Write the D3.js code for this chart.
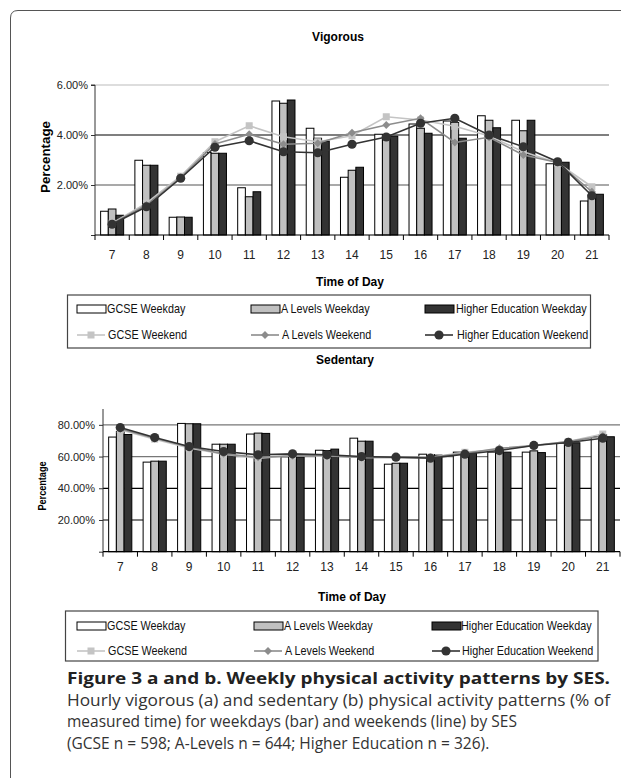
<!DOCTYPE html>
<html><head><meta charset="utf-8">
<script src="https://cdn.jsdelivr.net/npm/d3@7"></script>
<style>
html,body{margin:0;padding:0;background:#fff;}
svg{display:block;}
</style></head>
<body>
<svg id="c" width="621" height="778"></svg>
<script>
const hours = ["7","8","9","10","11","12","13","14","15","16","17","18","19","20","21"];
const seriesNames = ["GCSE Weekday","A Levels Weekday","Higher Education Weekday","GCSE Weekend","A Levels Weekend","Higher Education Weekend"];

const vigGcseWeekday = [0.95, 2.99, 0.71, 3.30, 1.89, 5.36, 4.27, 2.31, 4.03, 4.44, 4.56, 4.77, 4.59, 2.85, 1.36];
const vigALevWeekday = [1.04, 2.79, 0.72, 3.27, 1.53, 5.27, 3.87, 2.59, 3.97, 4.27, 4.50, 4.59, 4.17, 2.93, 1.60];
const vigHighWeekday = [0.79, 2.79, 0.71, 3.27, 1.73, 5.40, 3.76, 2.71, 3.95, 4.07, 3.87, 4.29, 4.59, 2.91, 1.63];
const vigGcseWeekend = [0.47, 1.27, 2.35, 3.73, 4.37, 3.93, 3.73, 3.97, 4.73, 4.60, 4.35, 3.96, 3.33, 2.88, 1.93];
const vigALevWeekend = [0.45, 1.20, 2.30, 3.64, 4.03, 3.63, 3.67, 4.09, 4.40, 4.67, 3.70, 3.91, 3.20, 2.90, 1.73];
const vigHighWeekend = [0.43, 1.13, 2.27, 3.51, 3.77, 3.33, 3.29, 3.63, 3.92, 4.47, 4.67, 4.00, 3.53, 2.93, 1.57];

const sedGcseWeekday = [72.3, 56.5, 80.9, 67.8, 74.2, 59.8, 64.0, 71.6, 55.2, 61.5, 62.8, 62.8, 62.8, 68.5, 72.6];
const sedALevWeekday = [75.8, 57.1, 80.7, 67.8, 74.8, 60.3, 63.8, 69.7, 55.8, 61.3, 62.5, 64.2, 63.6, 69.1, 73.7];
const sedHighWeekday = [73.9, 57.1, 80.7, 67.8, 74.6, 59.6, 64.7, 69.7, 55.8, 60.9, 62.1, 62.8, 62.5, 68.7, 72.5];
const sedGcseWeekend = [77.0, 71.0, 65.5, 61.5, 59.0, 60.5, 60.5, 59.5, 59.5, 59.5, 62.7, 64.5, 67.0, 69.5, 74.2];
const sedALevWeekend = [77.5, 71.5, 66.0, 61.7, 59.5, 60.5, 60.5, 59.5, 59.5, 59.5, 62.0, 65.2, 67.0, 69.5, 73.0];
const sedHighWeekend = [78.3, 72.0, 66.3, 63.2, 61.1, 61.7, 61.1, 60.0, 59.6, 59.0, 61.5, 63.8, 67.0, 68.9, 71.6];

const vigTicks = [2, 4, 6];
const vigTickLabels = ["2.00%", "4.00%", "6.00%"];
const sedTicks = [20, 40, 60, 80];
const sedTickLabels = ["20.00%", "40.00%", "60.00%", "80.00%"];

const captionTitle = "Figure 3 a and b. Weekly physical activity patterns by SES.";
const captionLines = [
  "Hourly vigorous (a) and sedentary (b) physical activity patterns (% of",
  "measured time) for weekdays (bar) and weekends (line) by SES",
  "(GCSE n = 598; A-Levels n = 644; Higher Education n = 326)."
];

const svg = d3.select("#c");
const FONT = "'Liberation Sans', Arial, sans-serif";
const barFill = ["#ffffff", "#c0c0c0", "#333333"];
const lineCol = ["#c4c4c4", "#8c8c8c", "#333333"];

// frame
svg.append("path").attr("d", "M10.5,778 L10.5,18 Q10.5,10.5 18,10.5 L621,10.5")
  .attr("fill", "none").attr("stroke", "#555").attr("stroke-width", 1);

function marker(g, kind, cx, cy) {
  if (kind === 0) {
    g.append("rect").attr("x", cx - 3.5).attr("y", cy - 3.5).attr("width", 7).attr("height", 7)
      .attr("fill", lineCol[0]);
  } else if (kind === 1) {
    g.append("path").attr("d", d3.symbol(d3.symbolDiamond2, 40)()).attr("transform", `translate(${cx},${cy})`)
      .attr("fill", lineCol[1]);
  } else {
    g.append("circle").attr("cx", cx).attr("cy", cy).attr("r", 4.6).attr("fill", lineCol[2]);
  }
}

function panel(cfg) {
  const g = svg.append("g");
  const x = d3.scaleBand().domain(hours).range([cfg.x0, cfg.x1]);
  const y = d3.scaleLinear().domain([0, cfg.ymax]).range([cfg.yb, cfg.yt]);
  const bw = x.bandwidth() * 0.224;
  const off = (x.bandwidth() - 3 * bw) / 2;
  const xs = d3.scaleBand().domain([0, 1, 2]).range([off, off + 3 * bw]);

  // title
  g.append("text").attr("x", cfg.titleX).attr("y", cfg.titleY).attr("text-anchor", "middle")
    .attr("font-family", FONT).attr("font-weight", "bold").attr("font-size", 12).text(cfg.title);

  // gridlines
  cfg.ticks.forEach((t, i) => {
    g.append("line").attr("x1", cfg.x0).attr("x2", cfg.x1).attr("y1", y(t)).attr("y2", y(t))
      .attr("stroke", cfg.gridCols[i]).attr("stroke-width", 1.2);
  });

  // bars
  const bars = [cfg.wd[0], cfg.wd[1], cfg.wd[2]];
  bars.forEach((arr, s) => {
    g.append("g").selectAll("rect").data(arr).join("rect")
      .attr("x", (d, i) => x(hours[i]) + xs(s))
      .attr("y", d => y(d))
      .attr("width", xs.bandwidth())
      .attr("height", d => y(0) - y(d))
      .attr("fill", barFill[s]).attr("stroke", "#000").attr("stroke-width", 1);
  });

  // axes
  const yAxis = d3.axisLeft(y).tickValues([0].concat(cfg.ticks)).tickSize(4).tickFormat("");
  const ya = g.append("g").attr("transform", `translate(${cfg.x0},0)`).call(yAxis);
  ya.select(".domain").attr("stroke", "#333").attr("d", `M-4,${cfg.yt}H0V${cfg.yb}`);
  if (cfg.noTopTick) ya.select(".domain").attr("d", `M0,${cfg.yt}V${cfg.yb}`);
  ya.selectAll("line").attr("stroke", "#333");
  cfg.ticks.forEach((t, i) => {
    g.append("text").attr("x", cfg.x0 - cfg.labelGap).attr("y", y(t) + 4).attr("text-anchor", "end")
      .attr("font-family", FONT).attr("font-size", cfg.tickFont).attr("fill", "#222").text(cfg.tickLabels[i]);
  });

  const bounds = hours.map(h => x(h)).concat([cfg.x1]);
  g.append("line").attr("x1", cfg.x0).attr("x2", cfg.x1).attr("y1", y(0)).attr("y2", y(0))
    .attr("stroke", "#000").attr("stroke-width", 1.2);
  g.append("g").selectAll("line").data(bounds).join("line")
    .attr("x1", d => d).attr("x2", d => d).attr("y1", y(0)).attr("y2", y(0) + 5)
    .attr("stroke", "#000");
  g.append("g").selectAll("text").data(hours).join("text")
    .attr("x", d => x(d) + x.bandwidth() / 2).attr("y", cfg.xLabelY).attr("text-anchor", "middle")
    .attr("font-family", FONT).attr("font-size", 12).attr("fill", "#222").text(d => d);
  g.append("text").attr("x", cfg.xTitleX).attr("y", cfg.xTitleY).attr("text-anchor", "middle")
    .attr("font-family", FONT).attr("font-weight", "bold").attr("font-size", 12).text("Time of Day");

  // y title
  g.append("text").attr("transform", `translate(${cfg.yTitleX},${cfg.yTitleY}) rotate(-90)`)
    .attr("text-anchor", "middle").attr("font-family", FONT).attr("font-weight", "bold")
    .attr("font-size", cfg.yTitleFont).attr("textLength", cfg.yTitleLen).attr("lengthAdjust", "spacingAndGlyphs")
    .text("Percentage");

  // lines
  [cfg.we[0], cfg.we[1], cfg.we[2]].forEach((arr, s) => {
    const line = d3.line().x((d, i) => x(hours[i]) + x.bandwidth() / 2).y(d => y(d));
    g.append("path").datum(arr).attr("d", line).attr("fill", "none")
      .attr("stroke", lineCol[s]).attr("stroke-width", 1.6);
    const mg = g.append("g");
    arr.forEach((d, i) => marker(mg, s, x(hours[i]) + x.bandwidth() / 2, y(d)));
  });

  // legend
  const L = cfg.legend;
  g.append("rect").attr("x", L.x0).attr("y", L.y0).attr("width", L.x1 - L.x0).attr("height", L.y1 - L.y0)
    .attr("fill", "#fff").attr("stroke", "#444").attr("stroke-width", 1.2);
  for (let s = 0; s < 3; s++) {
    g.append("rect").attr("x", L.sx[s]).attr("y", L.r1 - 4).attr("width", 29).attr("height", 8)
      .attr("fill", barFill[s]).attr("stroke", "#000");
    g.append("text").attr("transform", `translate(${L.tx[s]},${L.r1 + 4}) scale(0.9,1)`)
      .attr("font-family", FONT).attr("font-size", 12).attr("fill", "#111").text(seriesNames[s]);
    g.append("line").attr("x1", L.sx[s]).attr("x2", L.sx[s] + 28).attr("y1", L.r2).attr("y2", L.r2)
      .attr("stroke", lineCol[s]).attr("stroke-width", 1.6);
    marker(g, s, L.sx[s] + 14, L.r2);
    g.append("text").attr("transform", `translate(${L.tx[s] + 1},${L.r2 + 4}) scale(0.9,1)`)
      .attr("font-family", FONT).attr("font-size", 12).attr("fill", "#111").text(seriesNames[s + 3]);
  }
}

panel({
  title: "Vigorous", titleX: 338, titleY: 41,
  x0: 95, x1: 609, yt: 85, yb: 235, ymax: 6,
  ticks: vigTicks, tickLabels: vigTickLabels, gridCols: ["#555", "#000", "#bbb"],
  labelGap: 7, tickFont: 11,
  xLabelY: 259, xTitleX: 350, xTitleY: 286,
  yTitleX: 50, yTitleY: 157, yTitleFont: 12, yTitleLen: 72,
  wd: [vigGcseWeekday, vigALevWeekday, vigHighWeekday],
  we: [vigGcseWeekend, vigALevWeekend, vigHighWeekend],
  legend: { x0: 67.5, x1: 590.5, y0: 295, y1: 348, r1: 309, r2: 335,
            sx: [77, 251, 425], tx: [107, 281, 456] }
});

panel({
  title: "Sedentary", titleX: 345, titleY: 364,
  x0: 103, x1: 620, yt: 409, yb: 551.7, ymax: 90, noTopTick: true,
  ticks: sedTicks, tickLabels: sedTickLabels, gridCols: ["#000", "#000", "#777", "#777"],
  labelGap: 8, tickFont: 11,
  xLabelY: 571, xTitleX: 352, xTitleY: 601,
  yTitleX: 46, yTitleY: 486, yTitleFont: 11, yTitleLen: 49,
  wd: [sedGcseWeekday, sedALevWeekday, sedHighWeekday],
  we: [sedGcseWeekend, sedALevWeekend, sedHighWeekend],
  legend: { x0: 65.5, x1: 598, y0: 611, y1: 661, r1: 626, r2: 651,
            sx: [77, 254, 432], tx: [107, 284, 461] }
});

// caption
const CF = "'Open Sans', 'Noto Sans', sans-serif";
svg.append("text").attr("x", 67).attr("y", 684).attr("font-family", CF).attr("font-weight", "bold")
  .attr("font-size", 16).attr("fill", "#222").attr("textLength", 543).attr("lengthAdjust", "spacingAndGlyphs")
  .text(captionTitle);
captionLines.forEach((t, i) => {
  const el = svg.append("text").attr("x", 67).attr("y", 705.5 + i * 21.5).attr("font-family", CF)
    .attr("font-size", 15.5).attr("fill", "#333").text(t);
  if (i === 0) el.attr("textLength", 543).attr("lengthAdjust", "spacingAndGlyphs");
});
</script>
</body></html>
